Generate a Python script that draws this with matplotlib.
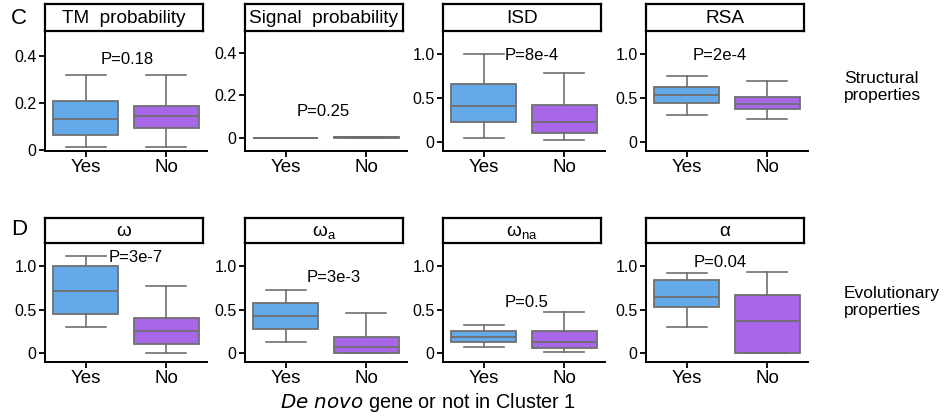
import matplotlib.pyplot as plt
import numpy as np

plt.rcParams['font.family'] = ['Liberation Sans', 'DejaVu Sans']
plt.rcParams['mathtext.default'] = 'regular'

# panel titles and p-values
titles = ['TM  probability', 'Signal  probability', 'ISD', 'RSA',
          'ω', 'ω$_{a}$', 'ω$_{na}$', 'α']
p_values = ['P=0.18', 'P=0.25', 'P=8e-4', 'P=2e-4',
            'P=3e-7', 'P=3e-3', 'P=0.5', 'P=0.04']
groups = ['Yes', 'No']

# box statistics: (whisker low, q1, median, q3, whisker high)
yes_low = [0.014, 0.0, 0.046, 0.31, 0.306, 0.13, 0.07, 0.30]
yes_q1 = [0.065, 0.0, 0.23, 0.44, 0.45, 0.28, 0.13, 0.53]
yes_med = [0.135, 0.0, 0.414, 0.54, 0.716, 0.425, 0.19, 0.65]
yes_q3 = [0.211, 0.0, 0.663, 0.63, 1.0, 0.57, 0.26, 0.835]
yes_high = [0.32, 0.0, 1.0, 0.75, 1.11, 0.72, 0.32, 0.92]

no_low = [0.014, 0.0, 0.025, 0.26, 0.0, 0.0, 0.02, 0.0]
no_q1 = [0.097, 0.001, 0.10, 0.38, 0.107, 0.0, 0.06, 0.0]
no_med = [0.146, 0.002, 0.23, 0.43, 0.25, 0.074, 0.126, 0.375]
no_q3 = [0.187, 0.003, 0.42, 0.51, 0.406, 0.19, 0.25, 0.67]
no_high = [0.32, 0.006, 0.79, 0.70, 0.774, 0.46, 0.47, 0.93]

# y ticks per panel
small_ticks = [0, 0.2, 0.4]
small_labels = ['0', '0.2', '0.4']
big_ticks = [0, 0.5, 1.0]
big_labels = ['0', '0.5', '1.0']

# layout (text positions in data coords)
p_pos = [(0.51, 0.386), (0.46, 0.124), (0.59, 0.99), (0.41, 0.98),
         (0.62, 1.10), (0.60, 0.87), (0.53, 0.58), (0.42, 1.035)]
ylims = [(-0.003, 0.5), (-0.062, 0.495)] + [(-0.1, 1.24)] * 6

W, H = 945, 419
fig = plt.figure(figsize=(W / 100, H / 100), dpi=100)

lefts = [45, 245, 443, 646]
row_axes = [(33, 151, 4, 31), (245, 362, 218, 243)]

blue = '#65aae8'
purple = '#a866e8'
gray = '#6f6f6f'

for i in range(8):
    r, c = divmod(i, 4)
    top, bot, ttop, tbot = row_axes[r]
    l = lefts[c]
    ax = fig.add_axes([l / W, 1 - bot / H, 162 / W, (bot - top) / H])
    stats = [
        dict(whislo=yes_low[i], q1=yes_q1[i], med=yes_med[i], q3=yes_q3[i],
             whishi=yes_high[i], fliers=[]),
        dict(whislo=no_low[i], q1=no_q1[i], med=no_med[i], q3=no_q3[i],
             whishi=no_high[i], fliers=[]),
    ]
    bp = ax.bxp(stats, positions=[0, 1], widths=0.81, patch_artist=True,
                showfliers=False,
                boxprops=dict(edgecolor=gray, linewidth=1.3),
                medianprops=dict(color=gray, linewidth=1.3),
                whiskerprops=dict(color=gray, linewidth=1.2),
                capprops=dict(color=gray, linewidth=1.2),
                capwidths=0.49)
    for patch, col in zip(bp['boxes'], [blue, purple]):
        patch.set_facecolor(col)

    ax.set_xlim(-0.51, 1.51)
    ax.set_ylim(*ylims[i])
    ax.set_xticks([0, 1])
    ax.set_xticklabels(groups, fontsize=13.5)
    if i < 2:
        ax.set_yticks(small_ticks)
        ax.set_yticklabels(small_labels, fontsize=11.5)
    else:
        ax.set_yticks(big_ticks)
        ax.set_yticklabels(big_labels, fontsize=11.5)
    for s in ['top', 'right']:
        ax.spines[s].set_visible(False)
    for s in ['left', 'bottom']:
        ax.spines[s].set_linewidth(1.4)
    ax.tick_params(direction='out', length=4, width=1.3, pad=2)
    ax.text(p_pos[i][0], p_pos[i][1], p_values[i], fontsize=12,
            ha='center', va='center')

    # title box
    tax = fig.add_axes([l / W, 1 - tbot / H, 158 / W, (tbot - ttop) / H])
    tax.set_xticks([])
    tax.set_yticks([])
    for s in tax.spines.values():
        s.set_linewidth(1.6)
    tax.text(0.5, 0.45, titles[i], fontsize=13.7, ha='center', va='center',
             transform=tax.transAxes)

fig.text(19 / W, 1 - 19 / H, 'C', fontsize=16, ha='center', va='center')
fig.text(19 / W, 1 - 229 / H, 'D', fontsize=16, ha='center', va='center')
fig.text(844 / W, 1 - 87 / H, 'Structural\nproperties', fontsize=12.5,
         ha='left', va='center', linespacing=1.2)
fig.text(844 / W, 1 - 302 / H, 'Evolutionary\nproperties', fontsize=12.5,
         ha='left', va='center', linespacing=1.2)
fig.text(428 / W, 1 - 402 / H, r'$\mathit{De\ novo}$ gene or not in Cluster 1',
         fontsize=14.3, ha='center', va='center')

fig.savefig('out.png', dpi=100)
